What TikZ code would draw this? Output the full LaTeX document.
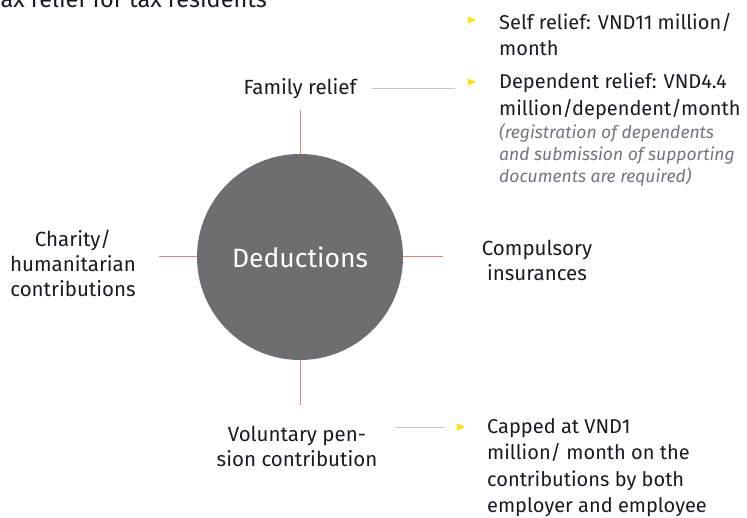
\documentclass[tikz,border=0pt]{standalone}
\usepackage{fontspec}
\setmainfont{Fira Sans}
\definecolor{ink}{HTML}{1A1A24}
\definecolor{notegray}{HTML}{747480}
\definecolor{leadgray}{HTML}{C4C4CD}
\definecolor{spokered}{HTML}{F47C7C}
\definecolor{eyyellow}{HTML}{FFE600}
\definecolor{hubgray}{HTML}{6D6E71}
\begin{document}
\begin{tikzpicture}[x=1pt,y=-1pt,
  lab/.style={text=ink, font=\fontsize{20.5}{25}\selectfont, align=center, inner sep=0pt},
  body/.style={text=ink, font=\fontsize{20}{26.5}\selectfont, align=left, anchor=west, inner sep=0pt},
  notetext/.style={text=notegray, font=\itshape\fontsize{17.5}{22}\selectfont, align=left, anchor=west, inner sep=0pt},
  spoke/.style={draw=spokered, line width=1pt},
  lead/.style={draw=leadgray, line width=1pt},
  bul/.style={fill=eyyellow}]
\useasboundingbox (0,0) rectangle (747,518);
% title (cropped)
\node[anchor=base east, text=ink, font=\fontsize{23.5}{26}\selectfont, inner sep=0pt] (title) at (267,8) {Tax relief for tax residents};
% hub
\node[circle, fill=hubgray, minimum size=206pt, inner sep=0pt, text=white, font=\fontsize{26.5}{30}\selectfont] (hub) at (300,257) {Deductions};
% spoke ends
\coordinate (nT) at (300,110);
\coordinate (nB) at (300,405);
\coordinate (nL) at (159,257);
\coordinate (nR) at (443,257);
\draw[spoke] (hub.north) -- (nT);
\draw[spoke] (hub.south) -- (nB);
\draw[spoke] (hub.west) -- (nL);
\draw[spoke] (hub.east) -- (nR);
% labels
\node[lab] (family) at (300,89) {Family relief};
\node[lab] (charity) at (73,263) {Charity/\\humanitarian\\contributions};
\node[lab] (insur) at (537,260.5) {Compulsory\\insurances};
\node[lab] (pension) at (297,446.5) {Voluntary pen-\\sion contribution};
% leader lines
\coordinate (fL) at (372,89);
\coordinate (fR) at (455,89);
\draw[lead] (fL) -- (fR);
\coordinate (pL) at (395,427);
\coordinate (pR) at (445,427);
\draw[lead] (pL) -- (pR);
% bullets
\fill[bul] (468,16.5) -- (476,20) -- (468,23.5) -- cycle;
\fill[bul] (468,78.5) -- (476,82) -- (468,85.5) -- cycle;
\fill[bul] (457,423.5) -- (465,427) -- (457,430.5) -- cycle;
% bullet texts
\node[body] (self) at (499,34.5) {Self relief: VND11 million/\\month};
\node[body] (dep) at (499,96.5) {Dependent relief: VND4.4\\million/dependent/month};
\node[notetext] (depnote) at (499,155) {(registration of dependents\\and submission of supporting\\documents are required)};
\node[body] (cap) at (487,467.5) {Capped at VND1\\million/ month on the\\contributions by both\\employer and employee};
\end{tikzpicture}
\end{document}
